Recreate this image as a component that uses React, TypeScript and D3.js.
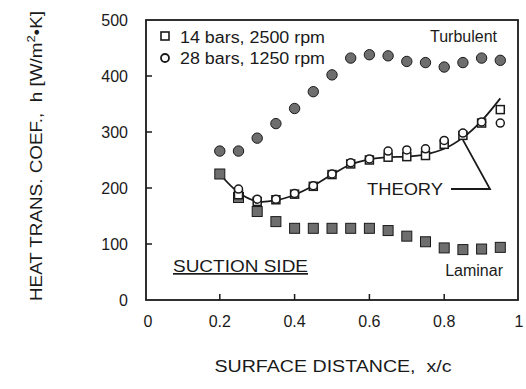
import React from 'react'
import * as d3 from 'd3'

// x/c positions of the measurement stations
const xStations = [0.2, 0.25, 0.3, 0.35, 0.4, 0.45, 0.5, 0.55, 0.6, 0.65, 0.7, 0.75, 0.8, 0.85, 0.9, 0.95]

const turbulent = [266, 266, 289, 315, 342, 372, 402, 432, 438, 436, 426, 424, 416, 424, 432, 428]
const laminar = [225, 183, 158, 140, 128, 128, 128, 128, 128, 124, 114, 104, 93, 90, 91, 94]

const xMeas = [0.25, 0.3, 0.35, 0.4, 0.45, 0.5, 0.55, 0.6, 0.65, 0.7, 0.75, 0.8, 0.85, 0.9, 0.95]
const bars14 = [188, 176, 179, 189, 203, 224, 243, 250, 255, 256, 258, 278, 294, 316, 340]
const bars28 = [198, 180, 180, 190, 204, 225, 245, 252, 266, 268, 270, 285, 298, 318, 316]

const theory = [225, 192, 176, 178, 188, 204, 224, 242, 251, 255, 256, 260, 270, 290, 320, 360]

const xTicks = [0, 0.2, 0.4, 0.6, 0.8, 1]
const yTicks = [0, 100, 200, 300, 400, 500]

const W = 526
const H = 389
const FONT = 'Liberation Sans, Arial, Helvetica, sans-serif'

export default function App() {
  const x = d3.scaleLinear().domain([0, 1]).range([145, 519])
  const y = d3.scaleLinear().domain([0, 500]).range([300, 20])

  const line = d3
    .line<number>()
    .x((d, i) => x(xStations[i]))
    .y(d => y(d))
    .curve(d3.curveCatmullRom.alpha(0.5))

  const fillGray = '#6e6e6e'
  const ink = '#1a1a1a'

  // pointer from THEORY label to curve
  const px = x(0.85)
  const py = y(286)

  return (
    <svg width={W} height={H} style={{position: 'absolute', left: 0, top: 0, background: '#fff'}} fontFamily={FONT}>
      {/* frame */}
      <rect x={146} y={20} width={372} height={280} fill="none" stroke={ink} strokeWidth={1.8} />

      {/* ticks */}
      {xTicks.slice(1, -1).map(t => (
        <line key={'xt' + t} x1={x(t)} x2={x(t)} y1={300} y2={294} stroke={ink} strokeWidth={1.5} />
      ))}
      {yTicks.slice(1, -1).map(t => (
        <line key={'yt' + t} x1={146} x2={152} y1={y(t)} y2={y(t)} stroke={ink} strokeWidth={1.5} />
      ))}

      {/* tick labels */}
      {xTicks.map(t => (
        <text key={'xl' + t} x={x(t) + (t === 0 ? 3 : 0)} y={327} textAnchor="middle" fontSize={16} fill={ink}>
          {d3.format('~g')(t)}
        </text>
      ))}
      {yTicks.map(t => (
        <text key={'yl' + t} x={128} y={y(t) + 6} textAnchor="end" fontSize={16} fill={ink}>
          {t}
        </text>
      ))}

      {/* axis titles */}
      <text x={333} y={372} textAnchor="middle" fontSize={16} fill={ink} textLength={237} lengthAdjust="spacingAndGlyphs">
        {'SURFACE DISTANCE,\u00a0 x/c'}
      </text>
      <text
        transform="translate(42,156) rotate(-90)"
        textAnchor="middle"
        fontSize={16}
        fill={ink}
        textLength={290}
        lengthAdjust="spacingAndGlyphs"
      >
        {'HEAT TRANS. COEF.,\u00a0 h [W/m'}<tspan dy={-7} fontSize={11}>2</tspan><tspan dy={7}>•K]</tspan>
      </text>

      {/* theory curve */}
      <path d={line(theory) || ''} fill="none" stroke={ink} strokeWidth={1.8} />

      {/* laminar squares */}
      {laminar.map((v, i) => (
        <rect key={'lam' + i} x={x(xStations[i]) - 5} y={y(v) - 5} width={10} height={10} fill={fillGray} stroke={ink} strokeWidth={1} />
      ))}

      {/* turbulent circles */}
      {turbulent.map((v, i) => (
        <circle key={'tur' + i} cx={x(xStations[i])} cy={y(v)} r={5.2} fill={fillGray} stroke={ink} strokeWidth={1} />
      ))}

      {/* 14 bars open squares */}
      {bars14.map((v, i) => (
        <rect key={'b14' + i} x={x(xMeas[i]) - 4} y={y(v) - 4} width={8} height={8} fill="#fff" stroke={ink} strokeWidth={1.5} />
      ))}

      {/* 28 bars open circles */}
      {bars28.map((v, i) => (
        <circle key={'b28' + i} cx={x(xMeas[i])} cy={y(v)} r={4} fill="#fff" stroke={ink} strokeWidth={1.5} />
      ))}

      {/* legend */}
      <rect x={161} y={32} width={8} height={8} fill="#fff" stroke={ink} strokeWidth={1.6} />
      <text x={180} y={43} fontSize={16} fill={ink} textLength={145} lengthAdjust="spacingAndGlyphs">14 bars, 2500 rpm</text>
      <circle cx={165} cy={58} r={4} fill="#fff" stroke={ink} strokeWidth={1.8} />
      <text x={180} y={64} fontSize={16} fill={ink} textLength={145} lengthAdjust="spacingAndGlyphs">28 bars, 1250 rpm</text>

      {/* annotations */}
      <text x={497} y={42} textAnchor="end" fontSize={16} fill={ink}>Turbulent</text>
      <text x={503} y={276} textAnchor="end" fontSize={16} fill={ink}>Laminar</text>
      <text x={367} y={195} fontSize={17} fill={ink} textLength={76} lengthAdjust="spacingAndGlyphs">THEORY</text>
      <polyline points={`451,189 490,189 ${px},${py}`} fill="none" stroke={ink} strokeWidth={1.8} />
      <text x={173} y={272} fontSize={17} fill={ink} textLength={135} lengthAdjust="spacingAndGlyphs" textDecoration="underline">
        SUCTION SIDE
      </text>
    </svg>
  )
}
